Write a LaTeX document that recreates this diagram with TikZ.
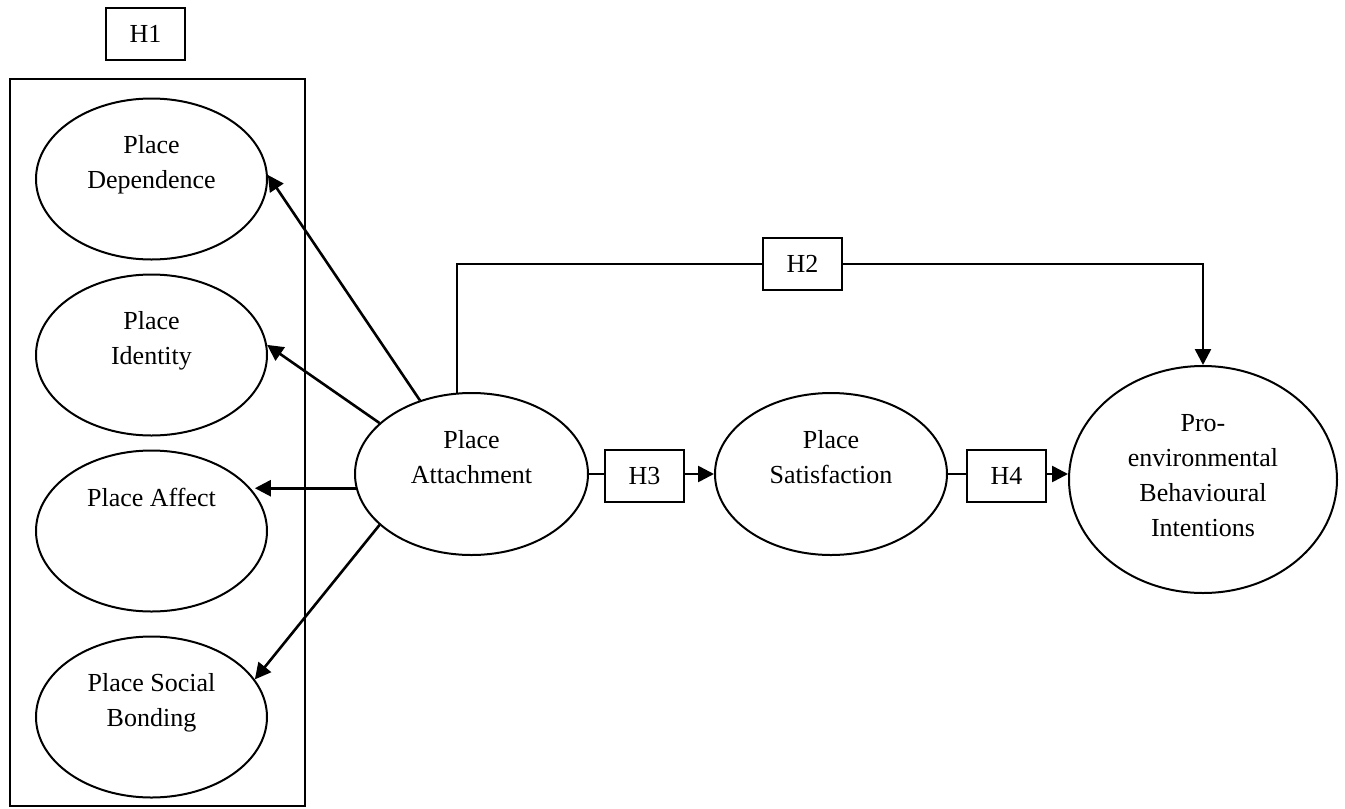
\documentclass[tikz,border=0pt]{standalone}
\usepackage{fontspec}
\setmainfont{Liberation Serif}
\usetikzlibrary{shapes.geometric,arrows.meta,positioning}
\tikzset{
  construct/.style={ellipse, draw, line width=1pt, inner sep=0pt, minimum width=115.5pt, minimum height=80.5pt},
  lbl/.style={align=center, inner sep=0pt, font=\fontsize{13}{17.5}\selectfont},
  hyp/.style={draw, line width=1pt, inner sep=0pt, minimum width=39.5pt, minimum height=26pt, font=\fontsize{13}{17.5}\selectfont},
  plain/.style={line width=1.3pt},
  link/.style={line width=1.3pt, -{Triangle[length=8pt,width=8pt]}},
}
\begin{document}
\begin{tikzpicture}[x=0.5pt,y=-0.5pt]
\useasboundingbox (0,0) rectangle (1345,809);
% H1 and its block
\node[hyp] (h1) at (145.5,34) {H1};
\node[draw, line width=1pt, minimum width=147.5pt, minimum height=363.5pt, inner sep=0pt] (frame) at (157.5,442.5) {};
% dimensions
\node[construct] (dep) at (151.5,179) {};
\node[construct] (ide) at (151.5,355) {};
\node[construct] (aff) at (151.5,531) {};
\node[construct] (soc) at (151.5,717) {};
\node[lbl, below=19pt of dep.north] (depT) {Place\\Dependence};
\node[lbl, below=19pt of ide.north] (ideT) {Place\\Identity};
\node[lbl, below=19pt of aff.north] (affT) {Place Affect};
\node[lbl, below=19pt of soc.north] (socT) {Place Social\\Bonding};
% main path
\node[construct, minimum width=116.5pt, minimum height=81pt] (att) at (471.5,474) {};
\node[construct, minimum width=116pt, minimum height=81pt] (sat) at (831,474) {};
\node[construct, minimum width=134pt, minimum height=113.5pt] (pro) at (1203,479.5) {};
\node[lbl, below=19pt of att.north] (attT) {Place\\Attachment};
\node[lbl, below=19pt of sat.north] (satT) {Place\\Satisfaction};
\node[lbl, below=24.5pt of pro.north] (proT) {Pro-\\environmental\\Behavioural\\Intentions};
\node[hyp] (h2) at (802.5,264) {H2};
\node[hyp] (h3) at (644.5,476) {H3};
\node[hyp] (h4) at (1006.5,476) {H4};
% connectors
\draw[link] (att.125) -- (dep.2);
\draw[link] (att.151) -- (ide.5);
\draw[link] (att.187) -- (att.187 -| aff.20);
\draw[link] (att.209) -- (soc.20);
\draw[plain] (att.east) -- (att.east -| h3.west);
\draw[link] (sat.west -| h3.east) -- (sat.west);
\draw[plain] (sat.east) -- (sat.east -| h4.west);
\draw[link] (sat.east -| h4.east) -- (sat.east -| pro.west);
\draw[plain] (att.100) |- (h2.west);
\draw[link] (h2.east) -| (pro.north);
\end{tikzpicture}
\end{document}
